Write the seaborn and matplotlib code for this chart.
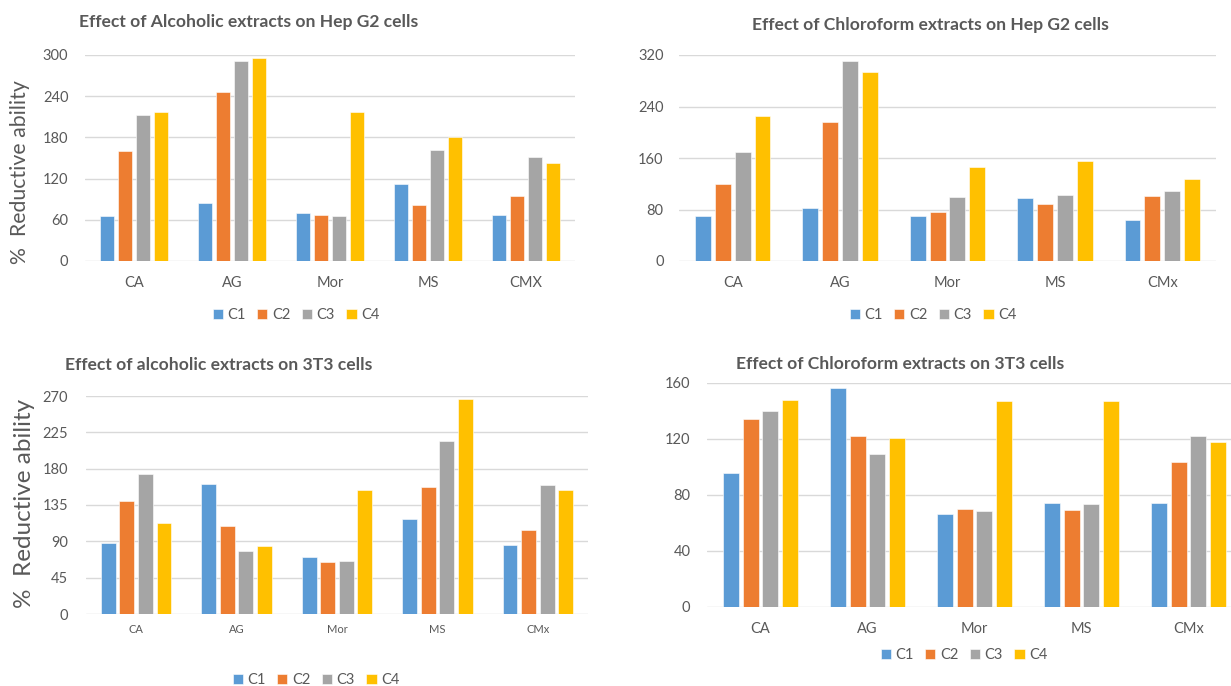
import matplotlib
matplotlib.use("Agg")
import matplotlib.pyplot as plt
import seaborn as sns
import pandas as pd

# ---------------- data ----------------
series = ["C1", "C2", "C3", "C4"]
colors = ["#5B9BD5", "#ED7D31", "#A5A5A5", "#FFC000"]

cats_alc_hep = ["CA", "AG", "Mor", "MS", "CMX"]
alc_hep_c1 = [66, 84.5, 69.5, 111.7, 66.5]
alc_hep_c2 = [160.6, 245.6, 67.4, 81.6, 95.1]
alc_hep_c3 = [212.6, 291, 66, 161.7, 151]
alc_hep_c4 = [217, 295.6, 217, 181, 143.2]

cats_chl_hep = ["CA", "AG", "Mor", "MS", "CMx"]
chl_hep_c1 = [69.4, 82.3, 69.4, 98.4, 63.2]
chl_hep_c2 = [119.6, 215.9, 76.1, 89.1, 101.5]
chl_hep_c3 = [169.3, 310.7, 99.9, 103, 108.2]
chl_hep_c4 = [225.2, 293.6, 146.5, 154.8, 127.4]

cats_alc_3t3 = ["CA", "AG", "Mor", "MS", "CMx"]
alc_3t3_c1 = [88.1, 160.9, 71.1, 117.5, 85.2]
alc_3t3_c2 = [139.4, 108.4, 64.9, 157.2, 104.6]
alc_3t3_c3 = [172.9, 77.8, 66.2, 213.8, 159.7]
alc_3t3_c4 = [112.5, 84.0, 153.4, 266.4, 153.4]

cats_chl_3t3 = ["CA", "AG", "Mor", "MS", "CMx"]
chl_3t3_c1 = [95.4, 156.4, 66.5, 74.1, 74.1]
chl_3t3_c2 = [134.6, 121.8, 70.0, 69.3, 103.3]
chl_3t3_c3 = [139.8, 109.2, 68.6, 73.4, 121.8]
chl_3t3_c4 = [147.7, 120.4, 146.9, 146.9, 118.2]

titles = ["Effect of Alcoholic extracts on Hep G2 cells",
          "Effect of Chloroform extracts on Hep G2 cells",
          "Effect of alcoholic extracts on 3T3 cells",
          "Effect of Chloroform extracts on 3T3 cells"]
ylabel = "%  Reductive ability"


def long_df(cats, s1, s2, s3, s4):
    rows = []
    for name, vals in zip(series, [s1, s2, s3, s4]):
        for c, v in zip(cats, vals):
            rows.append({"cat": c, "series": name, "val": v})
    return pd.DataFrame(rows)


sns.set_style("white")
plt.rcParams["font.family"] = ["Lato", "DejaVu Sans"]
GRAY = "#595959"

W, H = 1231, 686
fig = plt.figure(figsize=(W / 100, H / 100), dpi=100)


def px_axes(x0, x1, y0, y1):
    return fig.add_axes([x0 / W, 1 - y1 / H, (x1 - x0) / W, (y1 - y0) / H])


panels = [
    dict(df=long_df(cats_alc_hep, alc_hep_c1, alc_hep_c2, alc_hep_c3, alc_hep_c4),
         box=(85, 575, 55, 261), ymax=300, step=60, xfs=10.5, xpad=11, ypad=12,
         title=(249, 22), legend=(296, 315)),
    dict(df=long_df(cats_chl_hep, chl_hep_c1, chl_hep_c2, chl_hep_c3, chl_hep_c4),
         box=(679, 1216, 55, 261), ymax=320, step=80, xfs=10.5, xpad=11, ypad=11,
         title=(930, 25), legend=(933, 315)),
    dict(df=long_df(cats_alc_3t3, alc_3t3_c1, alc_3t3_c2, alc_3t3_c3, alc_3t3_c4),
         box=(86, 588, 396, 614), ymax=270, step=45, xfs=8, xpad=7, ypad=13,
         title=(219, 365), legend=(316, 680)),
    dict(df=long_df(cats_chl_3t3, chl_3t3_c1, chl_3t3_c2, chl_3t3_c3, chl_3t3_c4),
         box=(707, 1242, 383, 607), ymax=160, step=40, xfs=10.5, xpad=11, ypad=12,
         title=(900, 364), legend=(964, 655)),
]

for i, p in enumerate(panels):
    ax = px_axes(*p["box"])
    sns.barplot(data=p["df"], x="cat", y="val", hue="series", palette=colors,
                saturation=1, width=0.74, gap=0.2, errorbar=None, ax=ax,
                edgecolor="white", linewidth=0.4)
    handles, labels = ax.get_legend_handles_labels()
    if ax.get_legend() is not None:
        ax.get_legend().remove()
    ax.set_xlim(-0.5, 4.5)
    ax.set_ylim(0, p["ymax"])
    ax.set_yticks(range(0, p["ymax"] + 1, p["step"]))
    ax.set_xlabel("")
    ax.set_ylabel("")
    for s in ax.spines.values():
        s.set_visible(False)
    ax.set_axisbelow(True)
    ax.yaxis.grid(True, color="#D9D9D9", linewidth=1)
    ax.xaxis.grid(False)
    ax.tick_params(axis="y", length=0, pad=p["ypad"], labelsize=10.5, labelcolor=GRAY)
    ax.tick_params(axis="x", length=0, pad=p["xpad"], labelsize=p["xfs"], labelcolor=GRAY)

    tx, ty = p["title"]
    fig.text(tx / W, 1 - ty / H, titles[i], ha="center", va="center",
             fontsize=12.6, fontweight="bold", color=GRAY)
    lx, ly = p["legend"]
    fig.legend(handles, labels, loc="center", bbox_to_anchor=(lx / W, 1 - ly / H),
               ncol=4, frameon=False, fontsize=10.5, handlelength=0.7,
               handleheight=0.7, handletextpad=0.3, columnspacing=0.8,
               labelcolor=GRAY)

fig.text(20 / W, 1 - 172 / H, ylabel, rotation=90, ha="center", va="center",
         fontsize=15.3, color=GRAY)
fig.text(25 / W, 1 - 503 / H, ylabel, rotation=90, ha="center", va="center",
         fontsize=17.5, color=GRAY)

fig.savefig("out.png", dpi=100)
